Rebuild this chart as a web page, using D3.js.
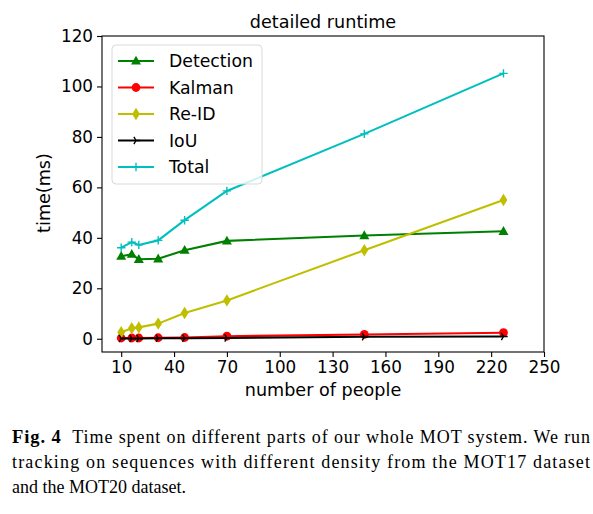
<!DOCTYPE html>
<html>
  <head>
    <meta charset="utf-8">
    <title>detailed runtime</title>
    <script src="https://d3js.org/d3.v7.min.js"></script>
    <style>
      body { margin: 0; background: #fff; }
      svg { display: block; }
    </style>
  </head>
  <body>
    <div id="chart"></div>
    <script>
      // number of people per sequence
      var people = [10, 16, 20, 31, 46, 70, 148, 227];

      var detection = [32.7, 33.5, 31.5, 31.7, 35.1, 38.8, 40.9, 42.6];
      var kalman    = [0.3, 0.3, 0.3, 0.4, 0.5, 1.0, 1.7, 2.4];
      var reid      = [2.6, 4.2, 4.5, 6.0, 10.2, 15.2, 35.1, 55.0];
      var iou       = [0.1, 0.1, 0.1, 0.2, 0.2, 0.3, 0.8, 0.9];
      var total     = [36.1, 38.3, 37.2, 39.0, 47.0, 58.6, 81.2, 105.2];

      var seriesNames = ["Detection", "Kalman", "Re-ID", "IoU", "Total"];
      var xTicks = [10, 40, 70, 100, 130, 160, 190, 220, 250];
      var yTicks = [0, 20, 40, 60, 80, 100, 120];

      var width = 593;
      var height = 514;
      var margin = {left: 102, right: 49, top: 36, bottom: 162};

      var series = [
        {name: "Detection", values: detection, color: "#008000", marker: "tri"},
        {name: "Kalman", values: kalman, color: "#ff0000", marker: "circle"},
        {name: "Re-ID", values: reid, color: "#bfbf00", marker: "thin_diamond"},
        {name: "IoU", values: iou, color: "#000000", marker: "tri_right"},
        {name: "Total", values: total, color: "#00bfbf", marker: "plus"}
      ];

      var svg = d3.select("#chart")
            .append("svg")
            .attr("width", width)
            .attr("height", height);

      var x = d3.scaleLinear()
            .domain([-0.9, 250])
            .range([margin.left, width - margin.right]);

      var y = d3.scaleLinear()
            .domain([-5.25, 120])
            .range([height - margin.bottom, margin.top]);

      // line series
      var line = d3.line()
            .x(function(d, i) { return x(people[i]); })
            .y(function(d) { return y(d); });

      function drawMarker(g, type, color) {
        if (type == "tri") {
          g.append("path").attr("d", "M0,-5.2L5,3.6L-5,3.6Z").attr("fill", color);
        } else if (type == "circle") {
          g.append("circle").attr("r", 4.4).attr("fill", color);
        } else if (type == "thin_diamond") {
          g.append("path").attr("d", "M0,-6.2L3.9,0L0,6.2L-3.9,0Z").attr("fill", color);
        } else if (type == "tri_right") {
          g.append("path").attr("d", "M0,0L4.2,0M0,0L-2.1,-3.6M0,0L-2.1,3.6")
            .attr("stroke", color).attr("stroke-width", 1.4).attr("fill", "none");
        } else if (type == "plus") {
          g.append("path").attr("d", "M-4.2,0H4.2M0,-4.2V4.2")
            .attr("stroke", color).attr("stroke-width", 1.4).attr("fill", "none");
        }
      }

      series.forEach(function(s) {
        svg.append("path")
          .datum(s.values)
          .attr("d", line)
          .attr("fill", "none")
          .attr("stroke", s.color)
          .attr("stroke-width", 2.1)
          .attr("stroke-linejoin", "round");

        s.values.forEach(function(v, i) {
          var g = svg.append("g")
            .attr("transform", "translate(" + x(people[i]) + "," + y(v) + ")");
          drawMarker(g, s.marker, s.color);
        });
      });

      // axes
      var xAxis = d3.axisBottom(x).tickValues(xTicks).tickSize(5).tickPadding(4);
      var yAxis = d3.axisLeft(y).tickValues(yTicks).tickSize(5).tickPadding(4);

      var gx = svg.append("g")
        .attr("transform", "translate(0," + (height - margin.bottom) + ")")
        .call(xAxis);
      var gy = svg.append("g")
        .attr("transform", "translate(" + margin.left + ",0)")
        .call(yAxis);

      [gx, gy].forEach(function(g) {
        g.select(".domain").remove();
        g.selectAll("line").attr("stroke", "#000").attr("stroke-width", 1.1);
        g.selectAll("text")
          .attr("font-family", "DejaVu Sans")
          .attr("font-size", 16.8)
          .attr("fill", "#000");
      });

      // frame
      svg.append("rect")
        .attr("x", margin.left)
        .attr("y", margin.top)
        .attr("width", width - margin.left - margin.right)
        .attr("height", height - margin.top - margin.bottom)
        .attr("fill", "none")
        .attr("stroke", "#000")
        .attr("stroke-width", 1.1);

      // title and labels
      svg.append("text")
        .attr("x", 323)
        .attr("y", 28)
        .attr("text-anchor", "middle")
        .attr("font-family", "DejaVu Sans")
        .attr("font-size", 17.6)
        .text("detailed runtime");

      svg.append("text")
        .attr("x", 323)
        .attr("y", 396)
        .attr("text-anchor", "middle")
        .attr("font-family", "DejaVu Sans")
        .attr("font-size", 17.6)
        .text("number of people");

      svg.append("text")
        .attr("transform", "translate(50,193) rotate(-90)")
        .attr("text-anchor", "middle")
        .attr("font-family", "DejaVu Sans")
        .attr("font-size", 17.6)
        .text("time(ms)");

      // legend
      var legend = svg.append("g").attr("transform", "translate(112,45)");
      legend.append("rect")
        .attr("width", 150)
        .attr("height", 139)
        .attr("rx", 4)
        .attr("fill", "#fff")
        .attr("fill-opacity", 0.8)
        .attr("stroke", "#d9d9d9")
        .attr("stroke-width", 1);

      series.forEach(function(s, i) {
        var ly = 16 + i * 26.5;
        legend.append("line")
          .attr("x1", 6).attr("x2", 42)
          .attr("y1", ly).attr("y2", ly)
          .attr("stroke", s.color)
          .attr("stroke-width", 2.1);
        var g = legend.append("g").attr("transform", "translate(24," + ly + ")");
        drawMarker(g, s.marker, s.color);
        legend.append("text")
          .attr("x", 57)
          .attr("y", ly + 6.2)
          .attr("font-family", "DejaVu Sans")
          .attr("font-size", 17.3)
          .text(seriesNames[i]);
      });

      // caption
      var caption = svg.append("g")
        .attr("font-family", "Liberation Serif")
        .attr("font-size", 18);

      var l1 = caption.append("text")
        .attr("x", 12).attr("y", 443)
        .attr("textLength", 578)
        .attr("lengthAdjust", "spacing");
      l1.append("tspan").attr("font-weight", "bold").attr("font-size", 18.5).text("Fig. 4");
      l1.append("tspan").text("\u00a0\u00a0Time spent on different parts of our whole MOT system. We run");

      caption.append("text")
        .attr("x", 12).attr("y", 468)
        .attr("textLength", 578)
        .attr("lengthAdjust", "spacing")
        .text("tracking on sequences with different density from the MOT17 dataset");

      caption.append("text")
        .attr("x", 12).attr("y", 493)
        .text("and the MOT20 dataset.");
    </script>
  </body>
</html>
